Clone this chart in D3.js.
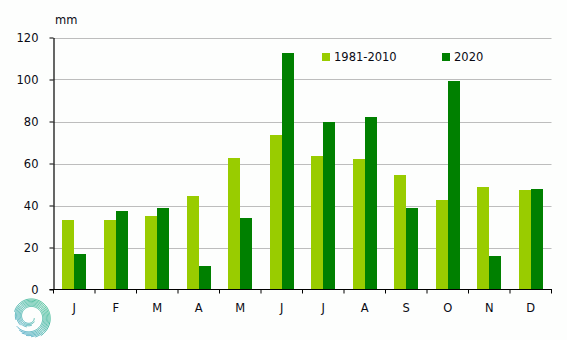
<!DOCTYPE html>
<html>
<head>
<meta charset="utf-8">
<script src="https://cdn.jsdelivr.net/npm/d3@7"></script>
<style>
  html, body { margin: 0; padding: 0; background: #fdfefd; }
  svg { display: block; }
  text { font-family: "DejaVu Sans", Verdana, sans-serif; fill: #0a0a14; }
</style>
</head>
<body>
<svg id="chart" width="567" height="340"></svg>
<script>
// Monthly precipitation (mm): 1981-2010 normal vs 2020
const months = ["J", "F", "M", "A", "M", "J", "J", "A", "S", "O", "N", "D"];
const normal1981_2010 = [33, 33, 35, 44.5, 62.5, 73.5, 63.5, 62, 54.5, 42.5, 49, 47.3];
const year2020 = [16.8, 37.3, 38.7, 11, 34, 112.5, 80, 82, 38.7, 99.2, 15.9, 47.8];
const seriesNames = ["1981-2010", "2020"];
const seriesColors = ["#99cc00", "#008000"];
const yTicks = [0, 20, 40, 60, 80, 100, 120];

const svg = d3.select("#chart");
const plotLeft = 53.5, plotRight = 551.5, plotTop = 37.5, plotBottom = 289.5;
const fontSize = 11.5;

const x = d3.scaleBand()
  .domain(d3.range(months.length))
  .range([plotLeft, plotRight])
  .paddingInner(0.42)
  .paddingOuter(0.21);

const xSeries = d3.scaleBand()
  .domain([0, 1])
  .range([0, x.bandwidth()]);

const y = d3.scaleLinear().domain([0, 120]).range([plotBottom, plotTop]);

// horizontal gridlines
svg.append("g")
  .selectAll("line")
  .data(yTicks.filter(d => d > 0))
  .join("line")
  .attr("x1", plotLeft).attr("x2", plotRight)
  .attr("y1", d => Math.round(y(d)) + 0.5)
  .attr("y2", d => Math.round(y(d)) + 0.5)
  .attr("stroke", "#bdbdbd")
  .attr("stroke-width", 1);

// bars
const rows = months.map((m, i) => ({ i, values: [normal1981_2010[i], year2020[i]] }));
const groups = svg.append("g")
  .selectAll("g")
  .data(rows)
  .join("g")
  .attr("transform", d => `translate(${x(d.i)},0)`);

groups.selectAll("rect")
  .data(d => d.values.map((v, s) => ({ v, s })))
  .join("rect")
  .attr("x", d => xSeries(d.s))
  .attr("width", xSeries.bandwidth())
  .attr("y", d => y(d.v))
  .attr("height", d => y(0) - y(d.v))
  .attr("fill", d => seriesColors[d.s])
  .attr("shape-rendering", "crispEdges");

// y axis
const yAxis = d3.axisLeft(y)
  .tickValues(yTicks)
  .tickSize(4)
  .tickPadding(11)
  .tickSizeOuter(0);
const gy = svg.append("g")
  .attr("transform", `translate(${plotLeft},0)`)
  .call(yAxis);
gy.select(".domain").attr("stroke", "#000").attr("stroke-width", 1.2);
gy.selectAll(".tick line").attr("stroke", "#000");
gy.selectAll(".tick text")
  .attr("font-size", fontSize)
  .attr("font-family", "DejaVu Sans, Verdana, sans-serif")
  .attr("fill", "#0a0a14");

// x axis: tick marks sit on the month boundaries
const step = x.step();
const bounds = d3.range(months.length + 1).map(k => plotLeft + k * step);
const gx = svg.append("g");
gx.append("line")
  .attr("x1", plotLeft - 4).attr("x2", plotRight + 0.5)
  .attr("y1", plotBottom).attr("y2", plotBottom)
  .attr("stroke", "#000").attr("stroke-width", 1.2);
gx.selectAll("line.tk")
  .data(bounds)
  .join("line")
  .attr("class", "tk")
  .attr("x1", d => d).attr("x2", d => d)
  .attr("y1", plotBottom).attr("y2", plotBottom + 4)
  .attr("stroke", "#000");
gx.selectAll("text")
  .data(months)
  .join("text")
  .attr("x", (d, i) => x(i) + x.bandwidth() / 2)
  .attr("y", 312)
  .attr("text-anchor", "middle")
  .attr("font-size", fontSize)
  .text(d => d);

// unit label
svg.append("text")
  .attr("x", 55).attr("y", 24)
  .attr("font-size", fontSize)
  .text("mm");

// legend
const legend = svg.append("g");
const legendX = [322, 442];
seriesNames.forEach((name, s) => {
  legend.append("rect")
    .attr("x", legendX[s]).attr("y", 53)
    .attr("width", 8).attr("height", 8)
    .attr("fill", seriesColors[s]);
  legend.append("text")
    .attr("x", legendX[s] + 12).attr("y", 61)
    .attr("font-size", fontSize)
    .text(name);
});

// swirl logo in the lower left corner
const defs = svg.append("defs");
const grad = defs.append("linearGradient")
  .attr("id", "swirl")
  .attr("gradientUnits", "userSpaceOnUse")
  .attr("x1", 20).attr("y1", -20).attr("x2", -18).attr("y2", 20);
grad.append("stop").attr("offset", "0%").attr("stop-color", "#3cbf86");
grad.append("stop").attr("offset", "55%").attr("stop-color", "#3fb0a8");
grad.append("stop").attr("offset", "100%").attr("stop-color", "#4c9fd6");

const logo = svg.append("g").attr("transform", "translate(30,317)");
const deg = Math.PI / 180;
const stripes = d3.range(7);
const spiral = d3.line().curve(d3.curveBasis);
stripes.forEach(k => {
  const start = 20 + k * 30, end = 505 - k * 14;
  const pts = d3.range(start, end, 3).map(a => {
    const r = 4.5 + (a - 20) * 0.024 + k * 1.25;
    return [r * Math.cos(a * deg), r * Math.sin(a * deg)];
  });
  logo.append("path")
    .attr("d", spiral(pts))
    .attr("fill", "none")
    .attr("stroke", "url(#swirl)")
    .attr("stroke-width", 0.95)
    .attr("stroke-linecap", "round");
});
</script>
</body>
</html>
